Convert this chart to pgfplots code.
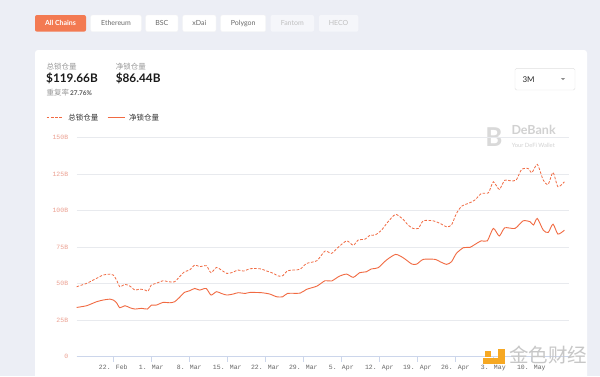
\documentclass[border=0pt]{standalone}
\usepackage{pgfplots}
\pgfplotsset{compat=1.18}
\usepackage{fontspec}
\setmainfont{Lato}
\newfontfamily\monof{Liberation Mono}
\newfontfamily\cjk{Noto Sans CJK SC}
\definecolor{bg}{RGB}{236,238,245}
\definecolor{linec}{RGB}{241,106,66}
\definecolor{ylab}{RGB}{236,160,145}
\definecolor{axc}{RGB}{204,214,235}
\definecolor{gridc}{RGB}{232,234,238}
\definecolor{btntxt}{RGB}{105,105,105}
\definecolor{orangebtn}{RGB}{243,122,82}
\definecolor{disbtn}{RGB}{245,246,250}
\definecolor{logoy}{RGB}{246,168,35}

\pgfplotstableread{
d v
-6.75 47.9
-4.9 50.2
-3.1 53.6
-1.84 55.9
-0.6 56.5
0 55.9
0.61 52.4
1.2 47.9
2.15 49.5
3.06 48.3
4.0 45.6
4.9 46.3
5.85 45.6
6.4 44.9
7.0 49.0
7.9 50.2
9.2 52.0
10.1 51.3
11.3 51.3
12.2 54.7
13.1 58.1
14.05 59.3
15.0 62.7
15.9 61.6
16.5 62.0
17.2 62.2
18.0 57.5
19.0 61.1
19.9 59.3
20.9 57.0
21.8 57.5
23.0 59.3
24.0 58.6
25.2 60.2
27.0 60.2
28.3 58.6
29.5 57.0
30.4 55.2
31.2 55.4
32.1 58.8
33.2 59.3
34.4 59.8
35.6 63.8
37.5 65.7
39.0 72.3
40.2 70.7
41.4 74.8
43.0 79.3
44.2 76.2
45.1 79.8
46.4 80.5
47.3 83.2
48.2 83.2
49.4 86.6
50.6 92.3
52.0 97.4
53.4 93.9
54.3 90.1
55.2 87.8
56.2 87.8
57.1 93.0
58.9 93.0
60.2 91.2
61.4 88.9
62.3 90.1
63.2 98.0
64.2 103.1
65.4 104.9
66.6 107.2
67.8 111.7
69.1 112.2
70.0 119.7
71.1 114.5
72.1 120.8
73.1 120.4
74.2 120.8
75.2 128.1
76.4 128.8
77.1 125.9
78.1 131.6
79.2 120.8
80.1 117.9
81.0 126.1
81.9 116.3
83.1 119.7
}\totaltvl

\pgfplotstableread{
d v
-6.75 33.7
-4.9 34.9
-3.1 37.6
-1.84 38.8
-0.6 39.4
0 38.8
0.61 36.9
1.2 33.5
2.15 34.9
3.06 33.5
4.0 32.6
5.2 33.1
6.3 32.6
7.0 35.3
7.9 35.3
9.2 37.2
10.4 36.9
11.3 37.6
12.2 40.6
13.1 44.0
14.05 45.1
15.0 46.7
15.9 45.6
17.1 46.7
18.0 42.2
19.0 44.5
19.9 43.3
20.9 42.2
22.1 42.9
23.0 43.8
24.3 43.3
25.2 44.0
27.3 43.8
28.8 42.9
30.1 41.0
31.2 41.0
32.1 43.3
34.4 43.5
35.6 46.1
37.5 48.3
39.0 52.0
40.2 51.8
41.7 55.2
43.0 56.5
44.2 54.3
45.4 57.5
46.6 58.1
47.5 60.0
48.8 60.9
50.3 66.1
52.0 70.0
53.4 67.7
55.0 63.4
55.9 63.4
57.1 66.6
59.3 66.6
60.2 65.0
61.4 63.2
62.3 65.0
63.2 70.7
64.5 74.6
65.7 74.8
66.6 76.8
67.8 79.3
68.9 79.3
70.0 87.8
71.1 82.6
72.1 88.2
74.0 87.8
75.5 93.0
76.8 92.3
77.4 90.1
78.1 94.6
79.2 86.6
80.1 85.0
81.0 90.7
81.9 83.9
83.1 86.6
}\nettvl

\begin{document}
\begin{tikzpicture}[x=1pt,y=1pt, t/.style={inner sep=0pt, outer sep=0pt}]
\useasboundingbox (0,0) rectangle (600,376);
\clip (0,0) rectangle (600,376);
\fill[bg] (0,0) rectangle (600,376);
\fill[white, rounded corners=3pt] (35,-10) rectangle (587,326);

% chain buttons
\fill[orangebtn, rounded corners=2pt] (35,344.3) rectangle (86,361);
\node[t, text=white, font=\fontsize{7}{8}\selectfont\bfseries] at (60.5,352.6) {All Chains};
\filldraw[fill=white, draw=black!4, rounded corners=2pt] (90.7,344.3) rectangle (141.3,361);
\node[t, text=btntxt, font=\fontsize{7}{8}\selectfont] at (116,352.6) {Ethereum};
\filldraw[fill=white, draw=black!4, rounded corners=2pt] (145.7,344.3) rectangle (178,361);
\node[t, text=btntxt, font=\fontsize{7}{8}\selectfont] at (161.9,352.6) {BSC};
\filldraw[fill=white, draw=black!4, rounded corners=2pt] (182.7,344.3) rectangle (216,361);
\node[t, text=btntxt, font=\fontsize{7}{8}\selectfont] at (199.3,352.6) {xDai};
\filldraw[fill=white, draw=black!4, rounded corners=2pt] (220.7,344.3) rectangle (265.7,361);
\node[t, text=btntxt, font=\fontsize{7}{8}\selectfont] at (243.2,352.6) {Polygon};
\fill[disbtn, rounded corners=2pt] (270.7,344.3) rectangle (314,361);
\node[t, text=black!25, font=\fontsize{7}{8}\selectfont] at (292.3,352.6) {Fantom};
\fill[disbtn, rounded corners=2pt] (319,344.3) rectangle (358.3,361);
\node[t, text=black!25, font=\fontsize{7}{8}\selectfont] at (338.6,352.6) {HECO};

% stats
\node[t, anchor=base west, font=\cjk\fontsize{7.5}{8}\selectfont, text=black!40] at (46.5,306.8) {总锁仓量};
\node[t, anchor=base west, font=\fontsize{11.8}{13}\selectfont\bfseries, text=black!90] at (46.2,293.5) {\$119.66B};
\node[t, anchor=base west, font=\cjk\fontsize{7.5}{8}\selectfont, text=black!40] at (115.8,306.8) {净锁仓量};
\node[t, anchor=base west, font=\fontsize{11.8}{13}\selectfont\bfseries, text=black!90] at (115.8,293.5) {\$86.44B};
\node[t, anchor=base west, font=\cjk\fontsize{7.5}{8}\selectfont, text=black!40] at (46.5,280.7) {重复率};
\node[t, anchor=base west, font=\fontsize{6.5}{7}\selectfont\bfseries, text=black!65] at (70,280.7) {27.76\%};

% legend
\draw[linec, line width=0.9pt, dash pattern=on 2.6pt off 1.6pt] (46.7,258.7) -- (63.3,258.7);
\node[t, anchor=west, font=\cjk\fontsize{7.5}{8}\selectfont, text=black!80] at (68.3,258.7) {总锁仓量};
\draw[linec, line width=0.9pt] (107.7,258.7) -- (125,258.7);
\node[t, anchor=west, font=\cjk\fontsize{7.5}{8}\selectfont, text=black!80] at (129,258.7) {净锁仓量};

% range selector
\draw[black!12, fill=white, rounded corners=1.5pt] (515,286) rectangle (575,307.7);
\node[t, anchor=west, font=\fontsize{8}{9}\selectfont, text=black!85] at (522.5,296.8) {3M};
\fill[black!45] (561,298) -- (565,298) -- (563,295.8) -- cycle;

% DeBank watermark
\node[t, anchor=center, font=\fontsize{26}{26}\selectfont\bfseries, text=black!15] at (494,238.6) {B};
\node[t, anchor=base west, font=\fontsize{12.5}{13}\selectfont\bfseries, text=black!18] at (511.5,242) {DeBank};
\node[t, anchor=base west, font=\fontsize{5.8}{6}\selectfont, text=black!18] at (511.8,228.7) {Your DeFi Wallet};

\begin{axis}[name=main, at={(76.7pt,19.3pt)}, anchor=south west,
  width=492.3pt, height=219.2pt, scale only axis,
  xmin=-6.74, xmax=83.94, ymin=0, ymax=150,
  axis x line*=bottom, axis y line*=left,
  axis line style={-},
  y axis line style={draw=none},
  x axis line style={draw=axc, line width=1pt, -},
  xtick={0,7,...,77},
  xticklabels={22. Feb,1. Mar,8. Mar,15. Mar,22. Mar,29. Mar,5. Apr,12. Apr,19. Apr,26. Apr,3. May,10. May},
  ytick={0,25,...,150},
  yticklabels={0,25B,50B,75B,100B,125B,150B},
  ymajorgrids, major grid style={draw=gridc, line width=0.8pt},
  ytick style={draw=none},
  xtick style={draw=axc, line width=0.8pt},
  tick align=outside, major tick length=5pt,
  xticklabel style={font=\monof\fontsize{6.5}{7}\selectfont, text=black!60},
  yticklabel style={font=\monof\fontsize{6.5}{7}\selectfont, text=ylab},
]
\addplot[linec, line width=0.8pt, dash pattern=on 2.6pt off 1.6pt, smooth, tension=0.4, no marks] table[x=d, y=v] {\totaltvl};
\addplot[linec, line width=0.9pt, smooth, tension=0.4, no marks] table[x=d, y=v] {\nettvl};
\end{axis}

% Jinse watermark
\fill[logoy] (485,19.3) rectangle (490.7,25);
\fill[logoy] (498.3,11.7) rectangle (505,27);
\fill[logoy] (482.7,11.7) rectangle (505,17.7);
\node[t, anchor=base west, font=\cjk\fontsize{19.5}{20}\selectfont, text=black!22] at (509,14) {金色财经};
\end{tikzpicture}
\end{document}
